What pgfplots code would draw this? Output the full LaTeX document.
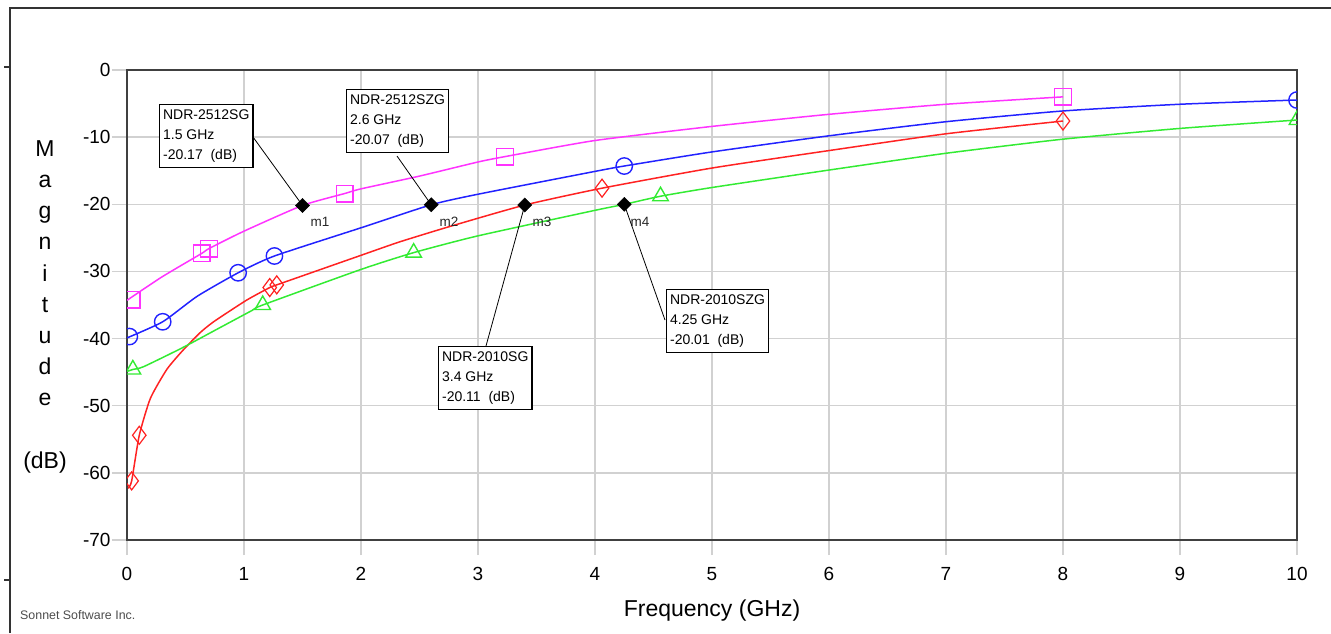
\documentclass[border=0pt]{standalone}
\usepackage{pgfplots}
\pgfplotsset{compat=1.18}
\usepackage{fontspec}
\setmainfont{Liberation Sans}
\definecolor{cmag}{RGB}{255,51,255}
\definecolor{cblu}{RGB}{34,34,255}
\definecolor{cred}{RGB}{255,34,34}
\definecolor{cgrn}{RGB}{51,235,51}
\begin{document}
\begin{tikzpicture}[x=1pt,y=1pt]
\path[use as bounding box] (0,0) rectangle (1331,633);
% outer frame
\draw[black!80, line width=1.8pt] (10,0) -- (10,625) -- (1331,625);
\draw[black!80, line width=1.2pt] (4,566) -- (10,566);
\draw[black!80, line width=1.2pt] (4,53) -- (10,53);
\begin{axis}[
  at={(127pt,93pt)}, anchor=south west,
  width=1170pt, height=470pt, scale only axis,
  xmin=0, xmax=10, ymin=-70, ymax=0,
  xtick={0,1,...,10}, ytick={-70,-60,...,0},
  grid=major, grid style={color=black!18, line width=1.5pt},
  axis line style={color=black!75, line width=1.8pt},
  tick align=outside, major tick length=15pt,
  tick style={color=black!18, line width=1.5pt},
  xtick pos=left, ytick pos=left,
  /pgf/number format/assume math mode=true,
  ticklabel style={font=\fontsize{19}{19}\selectfont, text=black},
  xticklabel style={yshift=-9pt},
  yticklabel style={xshift=2pt},
  clip marker paths=true,
]
% curves
\addplot[cmag, line width=1.5pt, smooth, tension=0.35] coordinates {
(0,-34.3)(0.3,-30.8)(0.64,-27.3)(0.70,-26.6)(1,-24.0)(1.5,-20.17)(1.86,-18.4)(2,-17.7)(2.5,-15.8)(3,-13.7)(3.23,-12.9)(4,-10.5)(5,-8.4)(6,-6.6)(7,-5.1)(8,-4.0)};
\addplot[cblu, line width=1.5pt, smooth, tension=0.35] coordinates {
(0,-39.9)(0.305,-37.5)(0.6,-33.7)(0.95,-30.2)(1.26,-27.7)(2,-23.5)(2.6,-20.07)(3,-18.5)(4,-15.1)(4.25,-14.3)(5,-12.2)(6,-9.8)(7,-7.7)(8,-6.1)(9,-5.1)(10,-4.47)};
\addplot[cred, line width=1.5pt, smooth, tension=0.35] coordinates {
(0.01,-62.3)(0.04,-61.2)(0.105,-54.4)(0.2,-48.9)(0.34,-44.6)(0.47,-41.9)(0.62,-39.2)(0.74,-37.5)(1.02,-34.3)(1.22,-32.4)(1.28,-32.0)(2,-27.6)(2.33,-25.6)(2.76,-23.3)(3.4,-20.11)(4.06,-17.6)(5,-14.6)(6,-12.0)(7,-9.5)(8,-7.6)};
\addplot[cgrn, line width=1.5pt, smooth, tension=0.35] coordinates {
(0,-44.9)(0.05,-44.6)(0.14,-44.2)(0.47,-41.4)(0.77,-38.6)(1.07,-35.8)(1.16,-35.0)(2,-29.7)(2.45,-27.2)(3,-24.7)(4,-20.9)(4.25,-20.01)(4.56,-18.8)(5,-17.5)(6,-14.9)(7,-12.4)(8,-10.3)(9,-8.7)(10,-7.45)};
% markers
\addplot[only marks, mark=square, mark size=8.3pt, mark options={draw=cmag, fill=white, line width=1.4pt}] coordinates {
(0.04,-34.2)(0.64,-27.3)(0.70,-26.6)(1.86,-18.4)(3.23,-12.9)(8,-4.0)};
\addplot[only marks, mark=o, mark size=8.2pt, mark options={draw=cblu, fill=white, line width=1.4pt}] coordinates {
(0.02,-39.7)(0.305,-37.5)(0.95,-30.2)(1.26,-27.7)(4.25,-14.3)(10,-4.47)};
\addplot[only marks, mark=diamond, mark size=9pt, mark options={draw=cred, fill=white, line width=1.2pt}] coordinates {
(0.04,-61.2)(0.105,-54.4)(1.22,-32.4)(1.28,-32.0)(4.06,-17.6)(8,-7.6)};
\addplot[only marks, mark=triangle, mark size=9pt, mark options={draw=cgrn, fill=white, line width=1.4pt}] coordinates {
(0.05,-44.6)(1.16,-35.0)(2.45,-27.2)(4.56,-18.8)(10,-7.45)};
% marker points m1..m4
\addplot[only marks, mark=square*, mark size=5pt, mark options={rotate=45, fill=black, draw=black}] coordinates {
(1.5,-20.17)(2.6,-20.07)(3.4,-20.11)(4.25,-20.01)};
\coordinate (m1) at (axis cs:1.5,-20.17);
\coordinate (m2) at (axis cs:2.6,-20.07);
\coordinate (m3) at (axis cs:3.4,-20.11);
\coordinate (m4) at (axis cs:4.25,-20.01);
\end{axis}
% marker labels
\begin{scope}[font=\fontsize{13.5}{14}\selectfont]
\node[text=black!85] at (320,411) {m1};
\node[text=black!85] at (449,411) {m2};
\node[text=black!85] at (542,411) {m3};
\node[text=black!85] at (640,411) {m4};
\end{scope}
% leader lines
\draw[black, line width=0.8pt] (253,496) -- (m1);
\draw[black, line width=0.8pt] (397,477) -- (m2);
\draw[black, line width=0.8pt] (486,287) -- (m3);
\draw[black, line width=0.8pt] (665,313) -- (m4);
% annotation boxes
\begin{scope}[every node/.style={draw=black, line width=1.2pt, fill=white, align=left, anchor=north west, inner xsep=3.5pt, inner ysep=5pt, font=\fontsize{14}{20}\selectfont}]
\node at (159,529) {NDR-2512SG\\1.5 GHz\\-20.17\ \ (dB)};
\node at (346,544) {NDR-2512SZG\\2.6 GHz\\-20.07\ \ (dB)};
\node at (438,287) {NDR-2010SG\\3.4 GHz\\-20.11\ \ (dB)};
\node at (666,344) {NDR-2010SZG\\4.25 GHz\\-20.01\ \ (dB)};
\end{scope}
% y label (stacked letters)
\begin{scope}[font=\fontsize{23}{23}\selectfont]
\node[anchor=base] at (45,476) {M};
\node[anchor=base] at (45,445) {a};
\node[anchor=base] at (45,414) {g};
\node[anchor=base] at (45,383) {n};
\node[anchor=base] at (45,352) {i};
\node[anchor=base] at (45,321) {t};
\node[anchor=base] at (45,290) {u};
\node[anchor=base] at (45,259) {d};
\node[anchor=base] at (45,228) {e};
\node[anchor=base] at (45,165) {(dB)};
\end{scope}
% x label
\node[font=\fontsize{23}{23}\selectfont, anchor=base] at (712,17) {Frequency (GHz)};
% credit
\node[font=\fontsize{12.4}{13}\selectfont, text=black!70, anchor=base west, inner sep=0pt] at (20,14) {Sonnet Software Inc.};
\end{tikzpicture}
\end{document}
